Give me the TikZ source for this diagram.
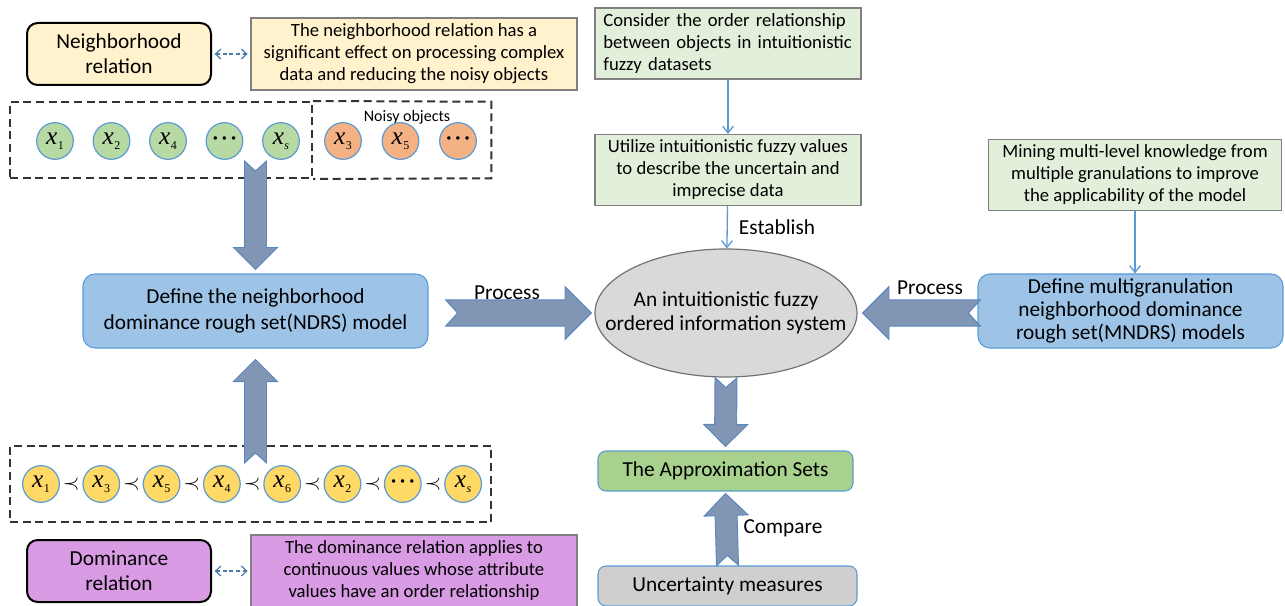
\documentclass[tikz,border=0pt]{standalone}
\usepackage{fontspec}
\setmainfont{Carlito}
\newfontfamily\timesfont{Liberation Serif}
\usetikzlibrary{calc,shapes.geometric,arrows.meta}

\definecolor{nbfill}{HTML}{FFF2CC}
\definecolor{dmfill}{HTML}{D89BE4}
\definecolor{factfill}{HTML}{E2EFDA}
\definecolor{modelfill}{HTML}{9DC3E6}
\definecolor{modeldraw}{HTML}{5B9BD5}
\definecolor{ellfill}{HTML}{D9D9D9}
\definecolor{apxfill}{HTML}{A9D18E}
\definecolor{uncfill}{HTML}{D0CECE}
\definecolor{arrfill}{HTML}{8096B4}
\definecolor{arrdraw}{HTML}{5B85BE}
\definecolor{gcirc}{HTML}{B7D9A3}
\definecolor{ocirc}{HTML}{F4B183}
\definecolor{ycirc}{HTML}{FFD966}

% object labels x_i
\newcommand\xv[1]{{\timesfont\itshape\fontsize{19}{19}\selectfont x\kern0.3pt\raisebox{-0.4ex}{\fontsize{9}{9}\selectfont\upshape #1}}}
\newcommand\xdots{{\timesfont\bfseries\fontsize{16}{16}\selectfont ·\kern1.5pt·\kern1.5pt·}}

% wide arrow with notched tail, from #2 to #3, #1 scales it
\newcommand\blockarrow[3][1]{%
  \pgfmathsetlengthmacro\bawidth{8.25pt*#1}%
  \pgfmathsetlengthmacro\bahead{16.5pt*#1}%
  \pgfmathsetlengthmacro\banotch{7.5pt*#1}%
  \draw[barrow] let \p1=(#2), \p2=(#3), \p3=($(\p2)!\bahead!(\p1)$) in
    ($(\p1)!\bawidth!90:(\p2)$) -- ($(\p1)!\banotch!(\p2)$) -- ($(\p1)!\bawidth!-90:(\p2)$)
    -- ($(\p3)!\bawidth!-90:(\p2)$) -- ($(\p3)!\bahead!-90:(\p2)$) -- (\p2)
    -- ($(\p3)!\bahead!90:(\p2)$) -- ($(\p3)!\bawidth!90:(\p2)$) -- cycle;}

\begin{document}
\begin{tikzpicture}[x=0.75pt, y=-0.75pt,
    big/.style={font=\fontsize{16}{19}\selectfont},
    relbox/.style={draw=black, line width=1.5pt, rounded corners=8pt, minimum width=138pt, minimum height=46.5pt, align=center, big},
    notebox/.style={draw=black!50, line width=1.1pt, minimum width=244.5pt, minimum height=54pt, align=center, font=\fontsize{14}{16.5}\selectfont},
    setline/.style={draw=black!80, line width=1.5pt, dash pattern=on 6pt off 3.5pt},
    setbox/.style={setline, minimum height=57pt},
    obj/.style={circle, draw=modeldraw, line width=0.9pt, minimum size=27.5pt, inner sep=0pt},
    factbox/.style={draw=black!50, line width=1.1pt, fill=factfill, minimum width=199.5pt, minimum height=53pt, align=center, font=\fontsize{14}{16.5}\selectfont},
    modelbox/.style={draw=modeldraw, line width=0.8pt, fill=modelfill, rounded corners=9pt, minimum height=55.5pt, align=center, font=\fontsize{16}{17.5}\selectfont},
    barrow/.style={draw=arrdraw, line width=0.7pt, fill=arrfill},
    link/.style={draw=modeldraw, line width=1pt, -{Straight Barb[length=5pt,width=8pt]}},
    dashlink/.style={draw=modeldraw!80!black, line width=0.9pt, dash pattern=on 3pt off 2pt, shorten <=2pt, shorten >=2pt,
      {Straight Barb[length=4pt,width=7.5pt]}-{Straight Barb[length=4pt,width=7.5pt]}},
    lbl/.style={big}
]
\useasboundingbox (0,0) rectangle (1285,606);

% neighborhood relation
\node[relbox, fill=nbfill] (nrel) at (119,54) {Neighborhood\\relation};
\node[notebox, fill=nbfill] (nnote) at (414,54) {The neighborhood relation has a\\significant effect on processing complex\\data and reducing the noisy objects};
\draw[dashlink] (nrel) -- (nnote);

\node[setbox, minimum width=226.5pt] (gset) at (161,140) {};
\node[minimum width=134.25pt, minimum height=57pt] (oset) at (401.5,140) {};
\draw[setline] (gset.north east) -- (oset.north east) -- (oset.south east) -- (gset.south east);
\node[font=\fontsize{12}{12}\selectfont] (noisy) at (407,117) {Noisy objects};
\foreach \lab [count=\i] in {\xv{1},\xv{2},\xv{4},\xdots,\xv{\itshape s}}
  \node[obj, fill=gcirc] (g\i) at ({55+56.5*(\i-1)},141) {\lab};
\foreach \lab [count=\i] in {\xv{3},\xv{5},\xdots}
  \node[obj, fill=ocirc] (o\i) at ({343+57.5*(\i-1)},141) {\lab};

% NDRS model
\node[modelbox, minimum width=258.75pt, font=\fontsize{16}{19.5}\selectfont] (ndrs) at (255.5,311) {Define the neighborhood\\dominance rough set(NDRS) model};

% dominance relation
\node[setbox, minimum width=360.75pt] (yset) at (250.5,484) {};
\foreach \lab [count=\i] in {\xv{1},\xv{3},\xv{5},\xv{4},\xv{6},\xv{2},\xdots,\xv{\itshape s}}
  \node[obj, fill=ycirc] (y\i) at ({41+60.3*(\i-1)},484) {\lab};
\foreach \i [evaluate=\i as \j using int(\i+1)] in {1,...,7}
  \node[inner sep=0pt] (p\i) at ($(y\i)!0.5!(y\j)$) {\scalebox{1.6}{$\prec$}};

\node[relbox, fill=dmfill] (drel) at (119,571) {Dominance\\relation};
\node[notebox, fill=dmfill] (dnote) at (414,571) {The dominance relation applies to\\continuous values whose attribute\\values have an order relationship};
\draw[dashlink] (drel) -- (dnote);

% middle column
\node[factbox, text width=187pt, align=left, inner xsep=6pt] (ord) at (728,43.5) {Consider the order relationship\\between objects in intuitionistic\\fuzzy datasets};
\node[factbox] (ifv) at (728,170) {Utilize intuitionistic fuzzy values\\to describe the uncertain and\\imprecise data};
\node[ellipse, draw=black!55, line width=0.9pt, fill=ellfill, minimum width=196.5pt, minimum height=96pt, inner sep=0pt] (ifois) at (726,313) {};
\node[align=center, font=\fontsize{16}{17.5}\selectfont] (ifoistxt) at (ifois.center) {An intuitionistic fuzzy\\ordered information system};
\node[modelbox, fill=apxfill, minimum width=191.25pt, minimum height=30pt, rounded corners=6pt] (apx) at (725.5,471) {The Approximation Sets};
\node[modelbox, fill=uncfill, minimum width=194.25pt, minimum height=30pt, rounded corners=6pt] (unc) at (727.5,586) {Uncertainty measures};

% right column
\node[factbox, minimum width=219.75pt] (mine) at (1135,175) {Mining multi-level knowledge from\\multiple granulations to improve\\the applicability of the model};
\node[modelbox, minimum width=228.75pt] (mndrs) at (1130.5,311) {Define multigranulation\\neighborhood dominance\\rough set(MNDRS) models};

\draw[link] (ord) -- (ifv);
\draw[link] (ifv) -- node[right, xshift=5pt, big] (est) {Establish} (ifois);
\draw[link] (mine.south) -- (mine.south |- mndrs.north);

\blockarrow{$(ndrs.north |- gset.south)+(0,-18)$}{$(ndrs.north)+(0,-4)$}
\blockarrow{$(ndrs.south |- yset.north)+(0,18)$}{$(ndrs.south)+(0,11)$}
\blockarrow[1.2]{$(ndrs.east |- ifois.west)+(17,0)$}{$(ifois.west)+(-3,0)$}
\blockarrow[1.2]{$(mndrs.west |- ifois.east)+(3,0)$}{$(ifois.east)+(5,0)$}
\blockarrow{ifois.south}{$(apx.north)+(0,-4)$}
\blockarrow{unc.north}{$(apx.south)+(0,2)$}

\node[lbl] (proc1) at (507,293) {Process};
\node[lbl] (proc2) at (930,288) {Process};
\node[lbl] (cmp) at (783,528) {Compare};
\end{tikzpicture}
\end{document}
